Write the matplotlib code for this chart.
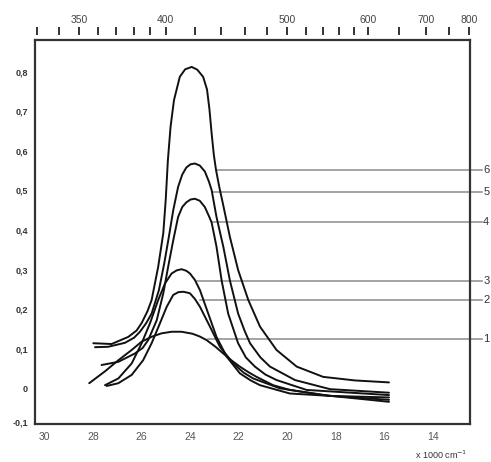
import numpy as np
import matplotlib
matplotlib.use("Agg")
import matplotlib.pyplot as plt

plt.rcParams['font.family'] = ['Liberation Sans', 'DejaVu Sans']

# wavenumber (x 1000 cm-1) / absorbance
w6 = [27.98, 27.23, 26.54, 26.20, 25.99, 25.75, 25.58, 25.31, 25.10, 25.00, 24.91, 24.80, 24.66,
      24.42, 24.20, 23.93, 23.70, 23.46, 23.30, 23.20, 23.11, 23.02, 22.93, 22.80, 22.63,
      22.36, 22.02, 21.60, 21.12, 20.44, 19.61, 18.52, 17.21, 15.81]
a6 = [0.114, 0.112, 0.130, 0.146, 0.165, 0.195, 0.223, 0.307, 0.392, 0.476, 0.577, 0.661, 0.728,
      0.787, 0.806, 0.812, 0.805, 0.787, 0.755, 0.705, 0.644, 0.590, 0.552, 0.510, 0.462,
      0.383, 0.299, 0.223, 0.156, 0.097, 0.055, 0.029, 0.020, 0.015]

w5 = [27.91, 27.37, 26.68, 26.30, 26.06, 25.80, 25.58, 25.28, 25.06, 24.87, 24.69, 24.49, 24.32,
      24.15, 23.98, 23.80, 23.60, 23.39, 23.22, 23.11, 22.91, 22.63, 22.36, 22.02, 21.75,
      21.53, 21.10, 20.71, 19.68, 18.24, 15.81]
a5 = [0.104, 0.105, 0.115, 0.128, 0.143, 0.165, 0.189, 0.248, 0.316, 0.383, 0.450, 0.509, 0.540,
      0.558, 0.566, 0.568, 0.563, 0.548, 0.522, 0.501, 0.433, 0.358, 0.273, 0.189, 0.145,
      0.114, 0.078, 0.055, 0.021, -0.002, -0.011]

w4 = [27.64, 26.95, 26.27, 25.95, 25.72, 25.37, 25.10, 24.90, 24.69, 24.49, 24.32, 24.15, 23.98,
      23.80, 23.60, 23.39, 23.22, 23.11, 22.91, 22.70, 22.43, 22.02, 21.70, 21.33, 20.90,
      20.44, 19.20, 15.81]
a4 = [0.059, 0.067, 0.088, 0.102, 0.122, 0.172, 0.240, 0.307, 0.374, 0.433, 0.458, 0.470, 0.477,
      0.479, 0.474, 0.458, 0.435, 0.419, 0.358, 0.273, 0.189, 0.114, 0.078, 0.055, 0.035,
      0.021, -0.004, -0.017]

w3 = [27.50, 26.95, 26.40, 25.99, 25.65, 25.31, 25.03, 24.76, 24.55, 24.35, 24.15,
      24.00, 23.80, 23.59, 23.25, 22.91, 22.49, 21.95, 21.50, 21.12, 19.89, 18.24, 15.81]
a3 = [0.008, 0.025, 0.063, 0.114, 0.164, 0.223, 0.265, 0.290, 0.298, 0.301, 0.297,
      0.290, 0.274, 0.248, 0.189, 0.130, 0.080, 0.038, 0.020, 0.008, -0.013, -0.019, -0.023]

w2 = [27.43, 26.95, 26.40, 25.93, 25.58, 25.24, 24.96, 24.69, 24.48, 24.28, 24.12,
      24.00, 23.80, 23.59, 23.18, 22.77, 22.22, 21.80, 21.40, 20.30, 18.24, 15.81]
a2 = [0.006, 0.013, 0.034, 0.071, 0.114, 0.164, 0.206, 0.236, 0.243, 0.244, 0.242,
      0.240, 0.226, 0.206, 0.156, 0.105, 0.063, 0.040, 0.025, 0.000, -0.019, -0.029]

w1 = [28.15, 27.50, 26.95, 26.40, 25.99, 25.55, 25.17, 24.75, 24.35, 23.90, 23.60, 23.32,
      22.95, 22.63, 22.30, 21.95, 21.60, 21.26, 20.58, 19.89, 18.52, 15.81]
a1 = [0.013, 0.043, 0.071, 0.097, 0.118, 0.131, 0.139, 0.143, 0.143, 0.138, 0.131, 0.122,
      0.105, 0.088, 0.071, 0.055, 0.041, 0.029, 0.008, -0.004, -0.017, -0.034]

curves = [(w1, a1), (w2, a2), (w3, a3), (w4, a4), (w5, a5), (w6, a6)]

# leader lines: label, height, where it leaves the curve
labels = ['1', '2', '3', '4', '5', '6']
label_y = [0.124, 0.223, 0.272, 0.421, 0.496, 0.552]
label_x0 = [23.25, 23.59, 23.73, 23.10, 23.06, 22.93]

yticks = [-0.085, 0, 0.1, 0.2, 0.3, 0.4, 0.5, 0.6, 0.7, 0.8]
ylabels = ['-0,1', '0', '0,1', '0,2', '0,3', '0,4', '0,5', '0,6', '0,7', '0,8']
xticks = [30, 28, 26, 24, 22, 20, 18, 16, 14]
nm_ticks = [330, 340, 350, 360, 370, 380, 390, 400, 420, 440, 460, 480, 500,
            520, 540, 560, 580, 600, 650, 700, 750, 800]
nm_labeled = [350, 400, 500, 600, 700, 800]


def to_nm(x):
    x = np.asarray(x, dtype=float)
    with np.errstate(divide='ignore'):
        return 10000.0 / x


fig = plt.figure(figsize=(4.91, 4.62), dpi=100)
ax = fig.add_axes([0.0713, 0.0823, 0.8857, 0.8311])

for w, a in curves:
    ax.plot(w, a, color='#111111', lw=1.4, solid_joinstyle='round', solid_capstyle='round')

for lab, y, x0 in zip(labels, label_y, label_x0):
    ax.plot([x0, 11.99], [y, y], color='#8a8a8a', lw=1.1, clip_on=False, zorder=1)
    ax.text(11.93, y, lab, ha='left', va='center', fontsize=8, color='#333333', clip_on=False)

ax.set_xlim(30.38, 12.48)
ax.set_ylim(-0.09, 0.88)
ax.set_xticks(xticks)
ax.set_xticklabels([str(t) for t in xticks])
ax.set_yticks(yticks)
ax.set_yticklabels(ylabels)
ax.tick_params(axis='x', length=0, pad=6, labelsize=7.5, labelcolor='#555555')
ax.tick_params(axis='y', length=0, pad=5, labelsize=6.5, labelcolor='#333333')
for lbl in ax.get_yticklabels():
    lbl.set_fontweight('bold')
for s in ax.spines.values():
    s.set_linewidth(1.6)
    s.set_color('#333333')

top = ax.secondary_xaxis('top', functions=(to_nm, to_nm))
top.spines['top'].set_position(('outward', 3.6))
top.spines['top'].set_visible(False)
top.set_xticks(nm_ticks)
top.set_xticklabels([str(t) if t in nm_labeled else '' for t in nm_ticks])
top.tick_params(axis='x', direction='out', length=5.5, width=1.4, color='#333333',
                pad=2, labelsize=7.5, labelcolor='#444444')

fig.text(0.952, 1 - 455 / 462, 'x 1000 cm$^{-1}$', ha='right', va='center',
         fontsize=6.5, color='#333333')

fig.savefig('out.png', dpi=100)
